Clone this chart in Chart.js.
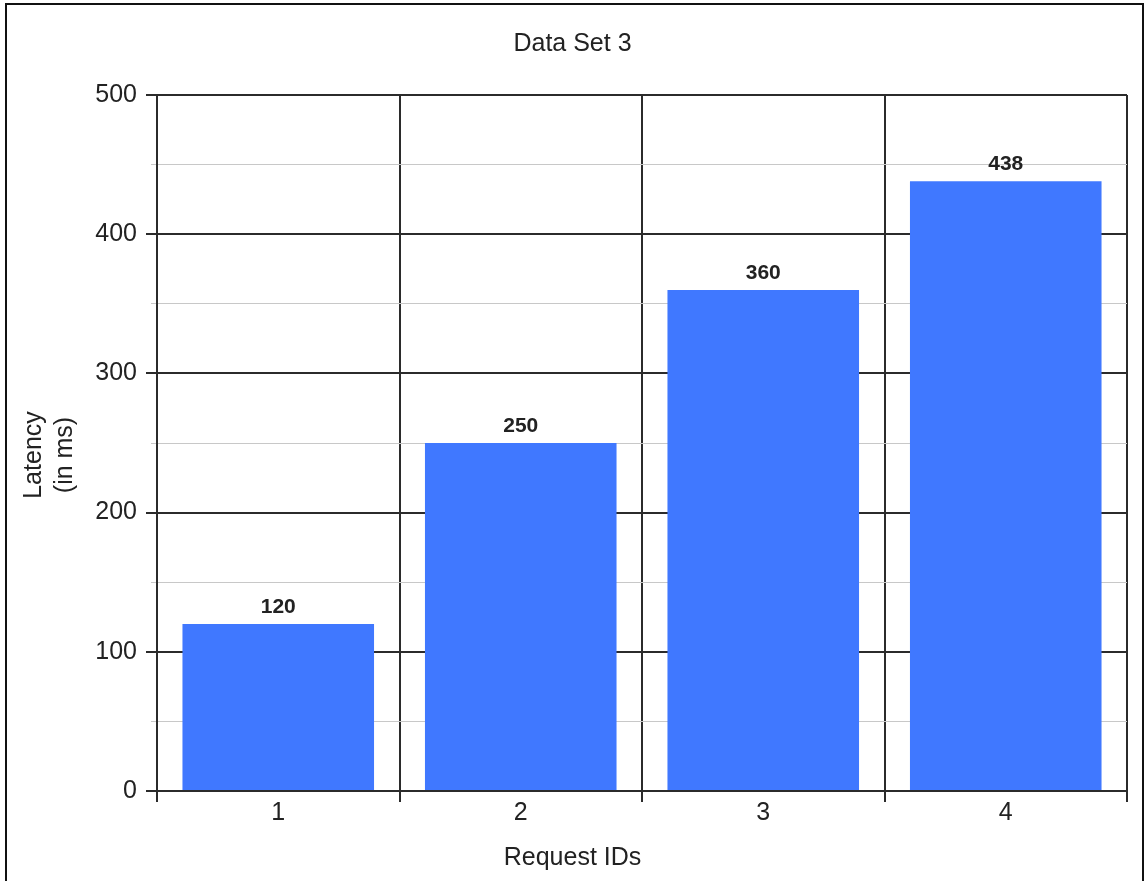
<!DOCTYPE html>
<html>
<head>
<meta charset="utf-8">
<title>Data Set 3</title>
<script src="https://cdn.jsdelivr.net/npm/chart.js@4"></script>
<style>
  html, body { margin: 0; padding: 0; background: #fff; overflow: hidden; }
  #frame {
    position: absolute; left: 5px; top: 3px;
    width: 1139px; height: 1000px;
    box-sizing: border-box; border: 2px solid #111;
  }
  #chart { position: absolute; left: 0; top: 0; }
</style>
</head>
<body>
<div id="frame"></div>
<canvas id="chart" width="1145" height="881"></canvas>
<script>
// Request latency per request ID
const requestIds = ['1', '2', '3', '4'];
const latencyMs = [120, 250, 360, 438];

// Y axis: labelled steps and the lighter in-between lines
const yMajorTicks = [0, 100, 200, 300, 400, 500];
const yMinorTicks = [50, 150, 250, 350, 450];

const chartTitle = 'Data Set 3';
const xAxisTitle = 'Request IDs';
const yAxisTitle = ['Latency', '(in ms)'];

const FONT = "'Liberation Sans', Arial, Helvetica, sans-serif";
const INK = '#222';
const RULE = '#2b2b2b';

Chart.defaults.font.family = FONT;
Chart.defaults.color = INK;

// Bold value printed above each bar
const valueLabels = {
  id: 'valueLabels',
  afterDatasetsDraw(chart) {
    const ctx = chart.ctx;
    const meta = chart.getDatasetMeta(0);
    const data = chart.data.datasets[0].data;
    ctx.save();
    ctx.font = 'bold 21px ' + FONT;
    ctx.fillStyle = INK;
    ctx.textAlign = 'center';
    ctx.textBaseline = 'alphabetic';
    meta.data.forEach((bar, i) => {
      ctx.fillText(String(data[i]), bar.x, bar.y - 11);
    });
    ctx.restore();
  }
};

// Two-line rotated caption for the value axis
const yCaption = {
  id: 'yCaption',
  afterDraw(chart) {
    const ctx = chart.ctx;
    const cy = 455;
    const baselines = [41, 72];
    ctx.save();
    ctx.font = '25px ' + FONT;
    ctx.fillStyle = INK;
    ctx.textAlign = 'center';
    ctx.textBaseline = 'alphabetic';
    yAxisTitle.forEach((line, i) => {
      ctx.save();
      ctx.translate(baselines[i], cy);
      ctx.rotate(-Math.PI / 2);
      ctx.fillText(line, 0, 0);
      ctx.restore();
    });
    ctx.restore();
  }
};

new Chart(document.getElementById('chart'), {
  type: 'bar',
  data: {
    labels: requestIds,
    datasets: [{
      data: latencyMs,
      backgroundColor: '#4078ff',
      borderWidth: 0,
      categoryPercentage: 1,
      barPercentage: 0.79
    }]
  },
  options: {
    responsive: false,
    animation: false,
    layout: { padding: { left: 18, right: 18, top: 0, bottom: 0 } },
    plugins: {
      legend: { display: false },
      tooltip: { enabled: false },
      title: {
        display: true,
        text: chartTitle,
        color: INK,
        font: { size: 25, weight: 'normal', lineHeight: 1.2 },
        padding: { top: 29, bottom: 36 }
      },
      subtitle: {
        display: true,
        text: xAxisTitle,
        position: 'bottom',
        color: INK,
        font: { size: 25, weight: 'normal', lineHeight: 1.2 },
        padding: { top: 0, bottom: 8 }
      }
    },
    scales: {
      x: {
        type: 'category',
        offset: true,
        grid: {
          offset: true,
          color: RULE,
          lineWidth: 2,
          tickLength: 11,
          tickColor: RULE
        },
        border: { display: true, color: RULE, width: 2 },
        ticks: {
          color: INK,
          font: { size: 25, lineHeight: 1.2 },
          padding: -4,
          maxRotation: 0
        },
        afterFit(scale) { scale.height = 52; }
      },
      y: {
        position: 'left',
        weight: 1,
        min: 0,
        max: 500,
        afterBuildTicks(scale) {
          scale.ticks = yMajorTicks.map(v => ({ value: v }));
        },
        grid: {
          color: RULE,
          lineWidth: 2,
          tickLength: 11,
          tickColor: RULE
        },
        border: { display: true, color: RULE, width: 2 },
        ticks: {
          color: INK,
          font: { size: 25, lineHeight: 1.2 },
          padding: 9
        },
        afterFit(scale) { scale.width = 139; }
      },
      yMinor: {
        position: 'left',
        weight: 0,
        min: 0,
        max: 500,
        afterBuildTicks(scale) {
          scale.ticks = yMinorTicks.map(v => ({ value: v }));
        },
        grid: {
          color: '#c8c8c8',
          lineWidth: 1,
          tickLength: 6,
          tickColor: '#c8c8c8'
        },
        border: { display: false },
        ticks: { display: false },
        afterFit(scale) { scale.width = 0; }
      }
    }
  },
  plugins: [valueLabels, yCaption]
});
</script>
</body>
</html>
